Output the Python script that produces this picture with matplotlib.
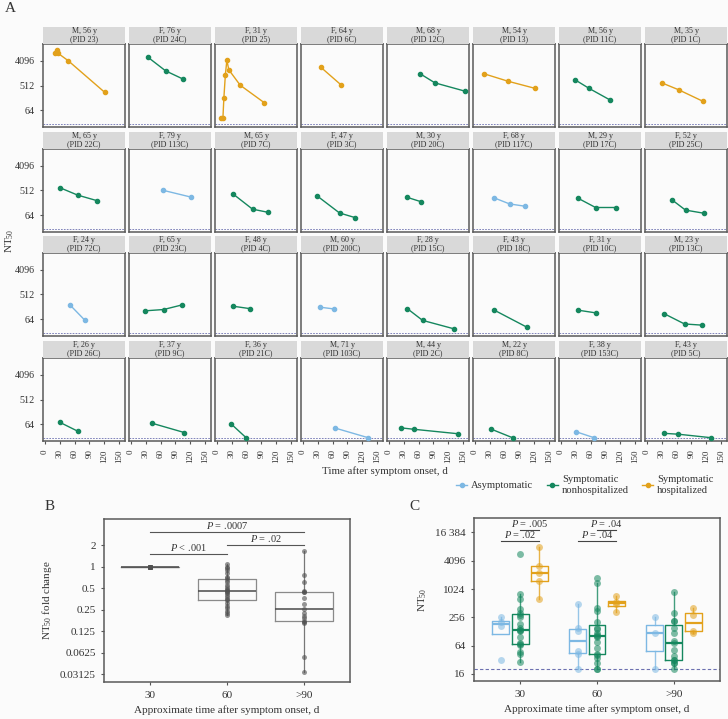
import numpy as np
import matplotlib
matplotlib.use('Agg')
import matplotlib.pyplot as plt
import matplotlib.ticker as mticker
from matplotlib.lines import Line2D
from matplotlib import cbook

plt.rcParams['font.family'] = ['Liberation Serif', 'DejaVu Serif']
plt.rcParams['mathtext.fontset'] = 'custom'
plt.rcParams['mathtext.rm'] = 'Liberation Serif'
plt.rcParams['mathtext.it'] = 'Liberation Serif:italic'

# ---------------- DATA ----------------
# Panel A: one facet per participant
facet_titles = [
    "M, 56 y", "F, 76 y", "F, 31 y", "F, 64 y", "M, 68 y", "M, 54 y", "M, 56 y", "M, 35 y",
    "M, 65 y", "F, 79 y", "M, 65 y", "F, 47 y", "M, 30 y", "F, 68 y", "M, 29 y", "F, 52 y",
    "F, 24 y", "F, 65 y", "F, 48 y", "M, 60 y", "F, 28 y", "F, 43 y", "F, 31 y", "M, 23 y",
    "F, 26 y", "F, 37 y", "F, 36 y", "M, 71 y", "M, 44 y", "M, 22 y", "F, 38 y", "F, 43 y",
]
facet_pids = [
    "PID 23", "PID 24C", "PID 25", "PID 6C", "PID 12C", "PID 13", "PID 11C", "PID 1C",
    "PID 22C", "PID 113C", "PID 7C", "PID 3C", "PID 20C", "PID 117C", "PID 17C", "PID 25C",
    "PID 72C", "PID 23C", "PID 4C", "PID 200C", "PID 15C", "PID 18C", "PID 10C", "PID 13C",
    "PID 26C", "PID 9C", "PID 21C", "PID 103C", "PID 2C", "PID 8C", "PID 153C", "PID 5C",
]
facet_groups = [
    "H", "N", "H", "H", "N", "H", "N", "H",
    "N", "A", "N", "N", "N", "A", "N", "N",
    "A", "N", "N", "A", "N", "N", "N", "N",
    "N", "N", "N", "A", "N", "N", "A", "N",
]
facet_days = [
    [20, 24, 27, 47, 121], [34, 70, 105], [8, 12, 14, 17, 20, 24, 47, 96], [36, 77],
    [63, 93, 153], [18, 67, 122], [29, 57, 99], [30, 64, 114],
    [31, 66, 105], [64, 121], [32, 72, 104], [29, 74, 106],
    [37, 64], [38, 70, 101], [35, 70, 111], [51, 78, 116],
    [50, 81], [28, 66, 103], [33, 66], [35, 62],
    [37, 68, 131], [38, 105], [35, 70], [35, 76, 112],
    [30, 66], [43, 108], [28, 59], [64, 132],
    [25, 50, 140], [32, 76], [31, 67], [34, 63, 130],
]
facet_nt50 = [
    [7750, 10800, 7750, 4200, 286], [5700, 1780, 890], [32, 32, 183, 1280, 4330, 1940, 525, 118], [2420, 540],
    [1390, 640, 320], [1390, 734, 400], [820, 400, 151], [640, 357, 132],
    [640, 347, 217], [526, 294], [388, 105, 80], [320, 76, 51],
    [286, 200], [278, 164, 135], [263, 121, 121], [229, 97, 74],
    [217, 57], [128, 143, 211], [189, 155], [174, 151],
    [155, 57, 28], [139, 32], [135, 108], [100, 42, 38],
    [74, 35], [68, 31], [66, 20], [46, 20],
    [46, 41, 28], [42, 20], [33, 20], [29, 27, 20],
]
detection_limit = 20

# Panel B: fold change relative to day-30 value
b_categories = ["30", "60", ">90"]
b_fold_30 = [1.0] * 26
b_fold_60 = [0.21, 0.22, 0.24, 0.26, 0.28, 0.31, 0.34, 0.35, 0.37, 0.40, 0.42, 0.44, 0.45,
             0.47, 0.49, 0.52, 0.55, 0.60, 0.65, 0.68, 0.72, 0.80, 0.88, 0.95, 1.0, 1.1]
b_fold_90 = [0.033, 0.055, 0.16, 0.165, 0.175, 0.19, 0.205, 0.22, 0.256, 0.30, 0.36,
             0.44, 0.445, 0.46, 0.60, 0.76, 1.66]
b_pvals = [("P = .0007", 1, 3, 3.0), ("P < .001", 1, 2, 1.5), ("P = .02", 2, 3, 2.0)]

# Panel C: NT50 by group and time
c_categories = ["30", "60", ">90"]
c_asym = [[31, 170, 205, 260], [20, 42, 50, 130, 150, 487], [20, 121, 256]]
c_nonhosp = [
    [29, 42, 46, 66, 68, 74, 100, 128, 135, 139, 155, 189, 263, 286, 320, 388, 640, 820, 5700],
    [20, 20, 27, 35, 41, 42, 57, 76, 97, 105, 108, 121, 143, 155, 200, 347, 400, 1390, 1780],
    [20, 28, 28, 31, 32, 38, 51, 74, 80, 121, 151, 211, 217, 320, 890],
]
c_hosp = [[620, 1500, 2210, 3210, 8080], [338, 480, 540, 729], [118, 132, 286, 399]]
c_pvals = [("P = .02", 0.75, 1.25, 10960), ("P = .005", 1.0, 1.25, 18600),
           ("P = .04", 1.75, 2.25, 10960), ("P = .04", 2.0, 2.25, 18600)]

group_names = {"A": "Asymptomatic", "N": "Symptomatic\nnonhospitalized", "H": "Symptomatic\nhospitalized"}
group_colors = {"A": "#7db8e3", "N": "#15875e", "H": "#e2a11b"}

# ---------------- STYLE ----------------
W, H = 728, 719
BG = '#fbfbfb'
TXT = '#333333'
SPINE = '#5a5a5a'
DASH = '#6c70b0'

fig = plt.figure(figsize=(W / 100, H / 100), dpi=100, facecolor=BG)


def add_ax(x0, y0, x1, y1):
    return fig.add_axes([x0 / W, 1 - y1 / H, (x1 - x0) / W, (y1 - y0) / H])


def style(ax, lw=1.1):
    ax.set_facecolor(BG)
    for sp in ax.spines.values():
        sp.set_color(SPINE)
        sp.set_linewidth(lw)
    ax.tick_params(colors='#555555', labelcolor=TXT, length=2.5, width=0.8)


def log_stats(vals, whis):
    st = cbook.boxplot_stats(np.log2(np.asarray(vals, float)), whis=whis)[0]
    for k in ['med', 'q1', 'q3', 'whislo', 'whishi', 'mean', 'cilo', 'cihi']:
        st[k] = 2 ** st[k]
    st['fliers'] = np.array([])
    return st


# ---------------- PANEL A ----------------
lefts = [43 + 86 * c for c in range(8)]
tops = [44, 149, 253, 358]
pw, ph, sh = 82, 83, 17
for i in range(32):
    r, c = divmod(i, 8)
    x0, y0 = lefts[c], tops[r]
    ax = add_ax(x0, y0, x0 + pw, y0 + ph)
    style(ax)
    ax.set_yscale('log', base=2)
    ax.set_ylim(2 ** 3.92, 2 ** 14.08)
    ax.set_xlim(-4, 162)
    ax.axhline(detection_limit, color=DASH, lw=0.6, ls=(0, (2, 1.5)), zorder=1)
    col = group_colors[facet_groups[i]]
    ax.plot(facet_days[i], facet_nt50[i], '-o', color=col, lw=1.0, ms=3, zorder=3)
    ax.yaxis.set_minor_locator(mticker.NullLocator())
    ax.set_yticks([64, 512, 4096])
    if c == 0:
        ax.set_yticklabels(['64', '512', '4096'], fontsize=7.3)
    else:
        ax.set_yticklabels([])
        ax.tick_params(axis='y', left=False)
    ax.set_xticks([0, 30, 60, 90, 120, 150])
    if r == 3:
        ax.set_xticklabels(['0', '30', '60', '90', '120', '150'], fontsize=6.5, rotation=90)
    else:
        ax.set_xticklabels([])
        ax.tick_params(axis='x', bottom=False)
    # strip
    sax = add_ax(x0, y0 - sh, x0 + pw, y0)
    sax.set_facecolor('#d9d9d9')
    for sp in sax.spines.values():
        sp.set_visible(False)
    sax.set_xticks([])
    sax.set_yticks([])
    sax.text(0.5, 0.5, f"{facet_titles[i]}\n({facet_pids[i]})", ha='center', va='center',
             fontsize=5.8, color=TXT, linespacing=1.05, transform=sax.transAxes)

fig.text(5 / W, 1 - 8 / H, 'A', fontsize=11, color=TXT, ha='left', va='center')
fig.text(10 / W, 1 - 241 / H, 'NT$_{50}$', rotation=90, fontsize=8, color=TXT, ha='center', va='center')
fig.text(385 / W, 1 - 471 / H, 'Time after symptom onset, d', fontsize=7.8, color=TXT, ha='center', va='center')

handles = [Line2D([], [], color=group_colors[g], marker='o', ms=3, lw=1) for g in ['A', 'N', 'H']]
fig.legend(handles, [group_names[g] for g in ['A', 'N', 'H']], ncol=3, loc='center',
           bbox_to_anchor=(585 / W, 1 - 485 / H), frameon=False, fontsize=7.6,
           handlelength=1.0, handletextpad=0.4, columnspacing=1.3, labelcolor=TXT)

# ---------------- PANEL B ----------------
axb = add_ax(104, 519, 350, 682)
style(axb)
axb.set_yscale('log', base=2)
axb.set_ylim(2 ** -5.37, 2 ** 2.21)
axb.set_xlim(0.4, 3.6)
b_data = [b_fold_30, b_fold_60, b_fold_90]
for k, vals in enumerate(b_data):
    st = log_stats(vals, whis=(0, 100))
    axb.bxp([st], positions=[k + 1], widths=0.75, showfliers=False, showcaps=False,
            boxprops=dict(color='#8a8a8a', lw=0.9), whiskerprops=dict(color='#777777', lw=0.9),
            medianprops=dict(color='#4a4a4a', lw=1.1), manage_ticks=False)
    axb.plot(np.full(len(vals), k + 1), vals, 'o', color='#505050', alpha=0.6, ms=3.6, mec='none', zorder=4)
for lab, a, b, y in b_pvals:
    axb.plot([a, b], [y, y], color='#555555', lw=0.8)
    axb.annotate(lab.replace('P', '$P$', 1), ((a + b) / 2, y), xytext=(0, 1), textcoords='offset points',
                 ha='center', va='bottom', fontsize=7.5, color=TXT)
axb.yaxis.set_minor_locator(mticker.NullLocator())
b_ticks = [2, 1, 0.5, 0.25, 0.125, 0.0625, 0.03125]
axb.set_yticks(b_ticks)
axb.set_yticklabels(['2', '1', '0.5', '0.25', '0.125', '0.0625', '0.03125'], fontsize=8)
axb.set_xticks([1, 2, 3])
axb.set_xticklabels(b_categories, fontsize=8)
axb.tick_params(axis='x', pad=4)
axb.set_xlabel('Approximate time after symptom onset, d', fontsize=8, color=TXT, labelpad=4)
axb.set_ylabel('NT$_{50}$ fold change', fontsize=8, color=TXT, labelpad=4)
fig.text(45 / W, 1 - 506 / H, 'B', fontsize=11, color=TXT, ha='left', va='center')

# ---------------- PANEL C ----------------
axc = add_ax(474, 518, 720, 681)
style(axc)
axc.set_yscale('log', base=2)
axc.set_ylim(2 ** 3.5, 2 ** 15.02)
axc.set_xlim(0.4, 3.6)
axc.axhline(detection_limit, color=DASH, lw=0.8, ls=(0, (3, 2)), zorder=1)
for off, g, data in [(-0.25, 'A', c_asym), (0.0, 'N', c_nonhosp), (0.25, 'H', c_hosp)]:
    col = group_colors[g]
    for k, vals in enumerate(data):
        pos = k + 1 + off
        st = log_stats(vals, whis=1.5)
        axc.bxp([st], positions=[pos], widths=0.22, showfliers=False, showcaps=False,
                boxprops=dict(color=col, lw=1.0), whiskerprops=dict(color=col, lw=1.0, alpha=0.8),
                medianprops=dict(color=col, lw=1.6), manage_ticks=False)
        axc.plot(np.full(len(vals), pos), vals, 'o', color=col, alpha=0.55, ms=5, mec='none', zorder=4)
for lab, a, b, y in c_pvals:
    axc.plot([a, b], [y, y], color='#444444', lw=0.8)
    axc.annotate(lab.replace('P', '$P$', 1), ((a + b) / 2, y), xytext=(0, 0.5), textcoords='offset points',
                 ha='center', va='bottom', fontsize=7.5, color=TXT)
axc.yaxis.set_minor_locator(mticker.NullLocator())
axc.set_yticks([16, 64, 256, 1024, 4096, 16384])
axc.set_yticklabels(['16', '64', '256', '1024', '4096', '16 384'], fontsize=8)
axc.set_xticks([1, 2, 3])
axc.set_xticklabels(c_categories, fontsize=8)
axc.tick_params(axis='x', pad=4)
axc.set_xlabel('Approximate time after symptom onset, d', fontsize=8, color=TXT, labelpad=4)
axc.set_ylabel('NT$_{50}$', fontsize=8, color=TXT, labelpad=4)
fig.text(409 / W, 1 - 507 / H, 'C', fontsize=11, color=TXT, ha='left', va='center')

fig.savefig('out.png', dpi=100, facecolor=BG)
